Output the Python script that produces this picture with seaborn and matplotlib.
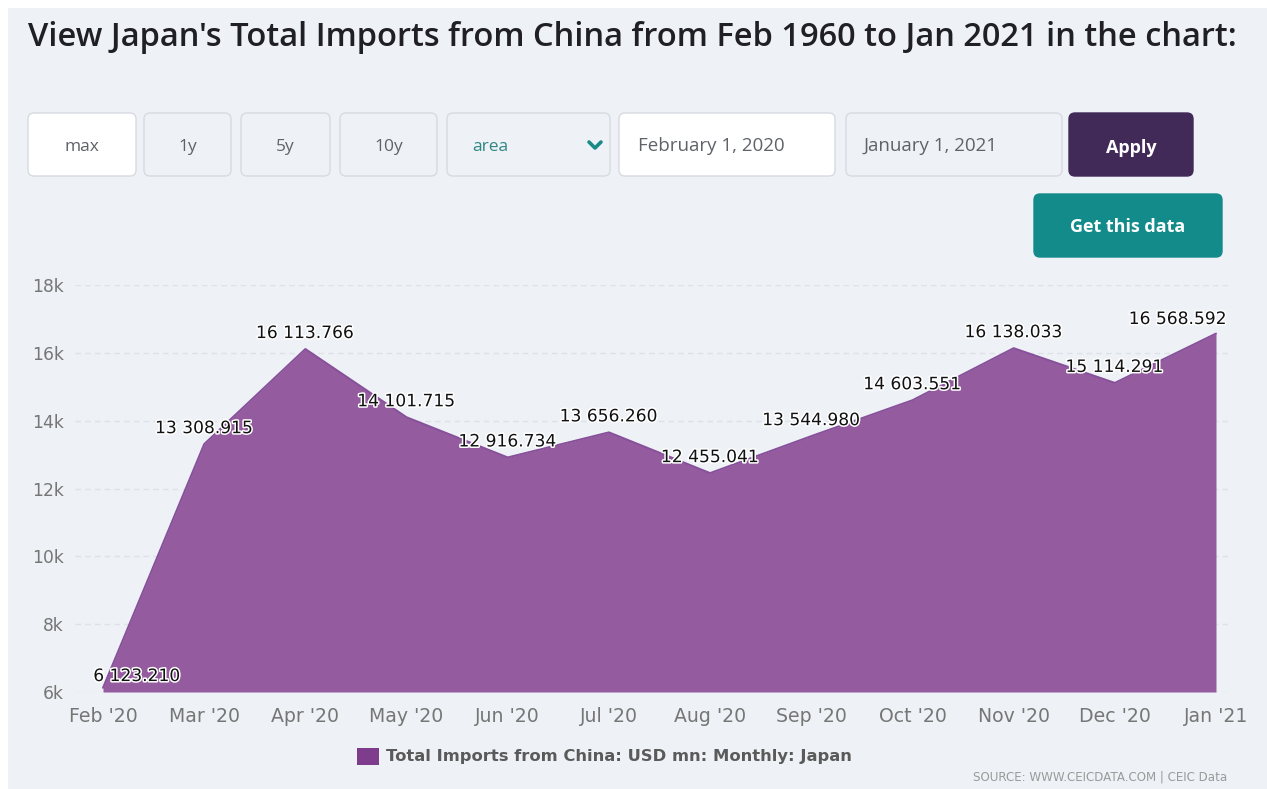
import numpy as np
import pandas as pd
import matplotlib
matplotlib.use("Agg")
import matplotlib.pyplot as plt
import matplotlib.patheffects as pe
from matplotlib.patches import FancyBboxPatch, Rectangle
from matplotlib.lines import Line2D
import seaborn as sns

# ---- data -------------------------------------------------------------
months = ["Feb '20", "Mar '20", "Apr '20", "May '20", "Jun '20", "Jul '20",
          "Aug '20", "Sep '20", "Oct '20", "Nov '20", "Dec '20", "Jan '21"]
imports_usd_mn = [6123.210, 13308.915, 16113.766, 14101.715, 12916.734, 13656.260,
                  12455.041, 13544.980, 14603.551, 16138.033, 15114.291, 16568.592]
y_ticks = [6000, 8000, 10000, 12000, 14000, 16000, 18000]
y_tick_labels = ["6k", "8k", "10k", "12k", "14k", "16k", "18k"]
series_name = "Total Imports from China: USD mn: Monthly: Japan"
title_text = "View Japan's Total Imports from China from Feb 1960 to Jan 2021 in the chart:"
source_text = "SOURCE: WWW.CEICDATA.COM | CEIC Data"
range_buttons = ["max", "1y", "5y", "10y"]
chart_type = "area"
start_date = "February 1, 2020"
end_date = "January 1, 2021"

df = pd.DataFrame({"idx": np.arange(len(months)), "value": imports_usd_mn})

# ---- styling ----------------------------------------------------------
PAGE_BG = "#eef2f6"
AREA = "#955b9f"
EDGE = "#87509a"
LEGEND_SWATCH = "#7d3c8c"
TEAL = "#138b8b"
PLUM = "#412a58"

sns.set_theme(style="whitegrid")
plt.rcParams["font.family"] = ["DejaVu Sans"]

W, H = 1267, 789
fig = plt.figure(figsize=(W / 100, H / 100), dpi=100, facecolor="white")

# full-size overlay in pixel units for the page furniture
ui = fig.add_axes([0, 0, 1, 1], zorder=0)
ui.set_xlim(0, W)
ui.set_ylim(H, 0)
ui.axis("off")
ui.add_patch(Rectangle((8, 8), W - 8, H - 8, facecolor=PAGE_BG, edgecolor="none"))

ui.text(28, 37, title_text, fontsize=23.5, fontfamily="Open Sans", fontweight="semibold",
        color="#1f1f24", va="center", ha="left")


def button(x0, y0, x1, y1, fill, edge="#d6dbe1"):
    ui.add_patch(FancyBboxPatch((x0, y0), x1 - x0, y1 - y0,
                                boxstyle="round,pad=0,rounding_size=6",
                                facecolor=fill, edgecolor=edge, linewidth=1.0))


ui_font = dict(fontfamily="Open Sans", fontsize=12.5, va="center")
date_font = dict(fontfamily="Open Sans", fontsize=13.5, va="center")
btn_boxes = [(28, 136), (144, 231), (241, 330), (340, 437)]
for label, (bx0, bx1) in zip(range_buttons, btn_boxes):
    button(bx0, 113, bx1, 176, "white" if label == "max" else PAGE_BG)
    ui.text((bx0 + bx1) / 2, 147, label, ha="center", color="#5f6368", **ui_font)

button(447, 113, 610, 176, PAGE_BG)
ui.text(472, 147, chart_type, ha="left", color="#2f8784", **ui_font)
ui.add_line(Line2D([589, 595, 601], [142, 148, 142], color="#1a8a86", linewidth=2.6,
                   solid_capstyle="round", solid_joinstyle="round"))

button(619, 113, 835, 176, "white")
ui.text(638, 146, start_date, ha="left", color="#5f6368", **date_font)
button(846, 113, 1062, 176, PAGE_BG)
ui.text(864, 146, end_date, ha="left", color="#5f6368", **date_font)

button(1069, 113, 1193, 176, PLUM, edge=PLUM)
ui.text(1131, 148, "Apply", ha="center", color="white", fontweight="bold",
        fontfamily="Open Sans", fontsize=13, va="center")
button(1034, 194, 1222, 257, TEAL, edge=TEAL)
ui.text(1128, 227, "Get this data", ha="center", color="white", fontweight="bold",
        fontfamily="Open Sans", fontsize=13, va="center")

# legend and source line
ui.add_patch(Rectangle((357, 748), 22, 17, facecolor=LEGEND_SWATCH, edgecolor="none"))
ui.text(386, 757, series_name, ha="left", va="center", fontsize=11.8, fontweight="bold",
        color="#5a5a5a")
ui.text(1227, 777, source_text, ha="right", va="center", fontsize=8.6, color="#9a9a9a")

# ---- chart axes -------------------------------------------------------
x_first_px, x_last_px = 103, 1216
grid_left_px, grid_right_px = 75, 1228
top_px, bottom_px = 285, 692
unit = (x_last_px - x_first_px) / (len(months) - 1)
ax = fig.add_axes([grid_left_px / W, 1 - bottom_px / H,
                   (grid_right_px - grid_left_px) / W, (bottom_px - top_px) / H], zorder=1)
ax.set_facecolor("none")
ax.set_xlim(-(x_first_px - grid_left_px) / unit,
            len(months) - 1 + (grid_right_px - x_last_px) / unit)
ax.set_ylim(y_ticks[0], y_ticks[-1])

ax.fill_between(df["idx"], y_ticks[0], df["value"], color=AREA, linewidth=0, zorder=2)
sns.lineplot(data=df, x="idx", y="value", ax=ax, color=EDGE, linewidth=1.4, zorder=3)

ax.set_yticks(y_ticks)
ax.set_yticklabels(y_tick_labels)
ax.set_xticks(df["idx"])
ax.set_xticklabels(months)
ax.tick_params(axis="y", length=0, pad=8, labelsize=12.3, labelcolor="#767676")
ax.tick_params(axis="x", length=0, pad=11, labelsize=13.6, labelcolor="#767676")
ax.grid(axis="x", visible=False)
ax.grid(axis="y", color="#dde2e8", linestyle=(0, (4, 3)), linewidth=1.0)
ax.set_axisbelow(True)
for s in ax.spines.values():
    s.set_visible(False)
ax.set_xlabel("")
ax.set_ylabel("")

# value labels above each point
halo = [pe.withStroke(linewidth=2.2, foreground="white")]
n = len(months)
for i, v in enumerate(imports_usd_mn):
    txt = f"{v:,.3f}".replace(",", " ")
    if i == 0:
        ax.annotate(txt, (i, v), xytext=(-7, 2), textcoords="offset points",
                    ha="left", va="bottom", fontsize=12.3, color="#111111",
                    path_effects=halo, zorder=5)
    elif i == n - 1:
        ax.annotate(txt, (i, v), xytext=(8, 4), textcoords="offset points",
                    ha="right", va="bottom", fontsize=12.3, color="#111111",
                    path_effects=halo, zorder=5)
    else:
        ax.annotate(txt, (i, v), xytext=(0, 5), textcoords="offset points",
                    ha="center", va="bottom", fontsize=12.3, color="#111111",
                    path_effects=halo, zorder=5)

fig.savefig("out.png", dpi=100, facecolor=fig.get_facecolor())
